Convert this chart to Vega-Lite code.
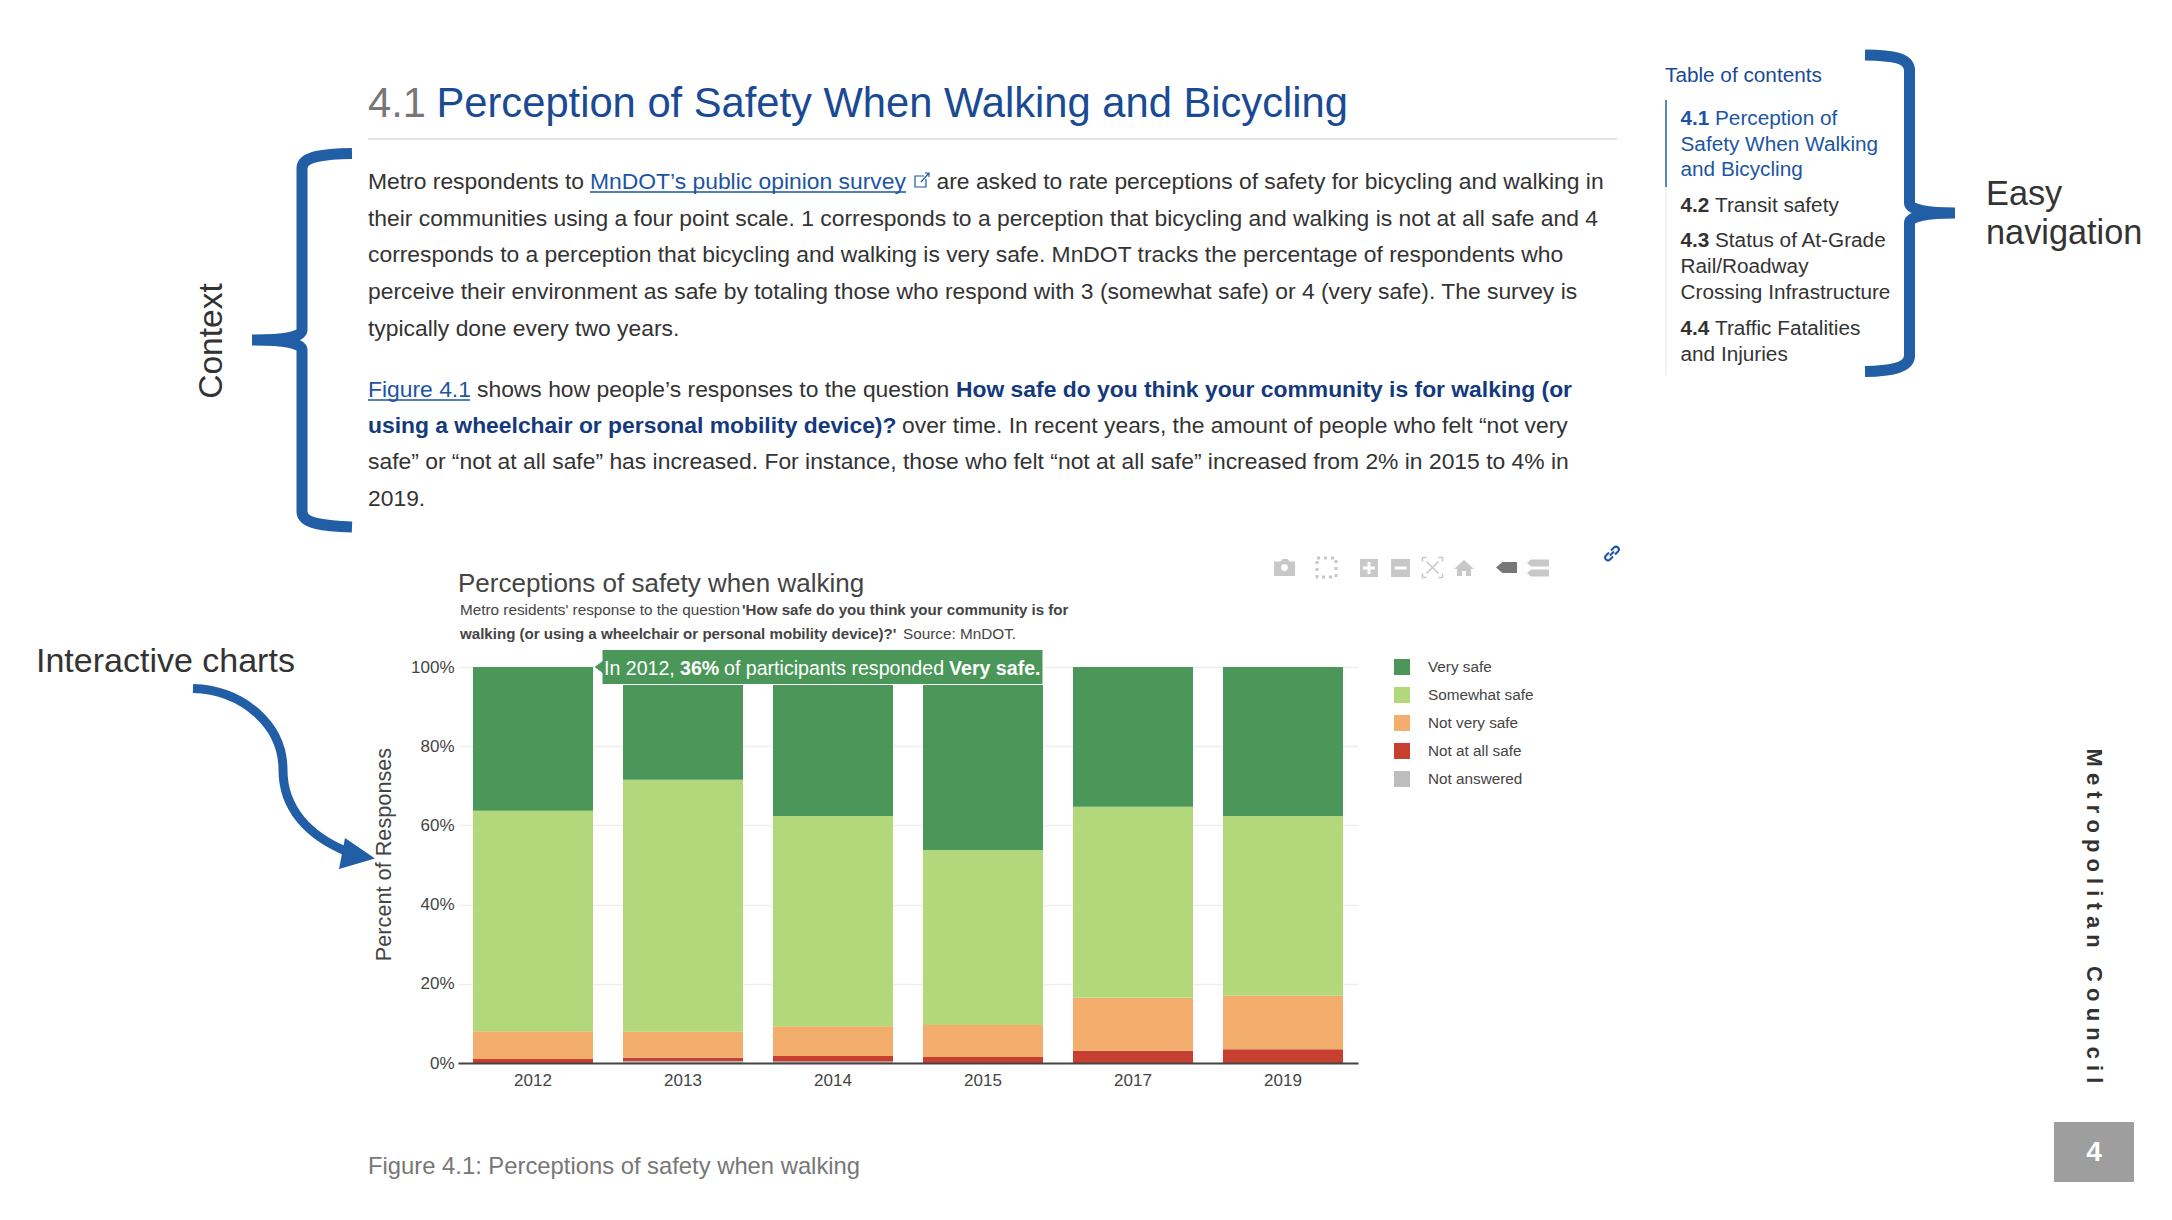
{"$schema":"https://vega.github.io/schema/vega-lite/v6.json","width":900,"height":396,"autosize":{"type":"none"},"padding":{"left":458,"top":667,"right":814,"bottom":157},"background":"white","config":{"view":{"stroke":null}},"resolve":{"scale":{"x":"independent","y":"independent"}},
"layer":[
{"data":{"values":[
{"year":"2012","response":"Not answered","percent":0},{"year":"2012","response":"Not at all safe","percent":1.0},{"year":"2012","response":"Not very safe","percent":7.0},{"year":"2012","response":"Somewhat safe","percent":55.7},{"year":"2012","response":"Very safe","percent":36.3},
{"year":"2013","response":"Not answered","percent":0.5},{"year":"2013","response":"Not at all safe","percent":0.8},{"year":"2013","response":"Not very safe","percent":6.6},{"year":"2013","response":"Somewhat safe","percent":63.6},{"year":"2013","response":"Very safe","percent":28.5},
{"year":"2014","response":"Not answered","percent":0.4},{"year":"2014","response":"Not at all safe","percent":1.35},{"year":"2014","response":"Not very safe","percent":7.55},{"year":"2014","response":"Somewhat safe","percent":53.1},{"year":"2014","response":"Very safe","percent":37.6},
{"year":"2015","response":"Not answered","percent":0},{"year":"2015","response":"Not at all safe","percent":1.5},{"year":"2015","response":"Not very safe","percent":8.1},{"year":"2015","response":"Somewhat safe","percent":44.2},{"year":"2015","response":"Very safe","percent":46.2},
{"year":"2017","response":"Not answered","percent":0},{"year":"2017","response":"Not at all safe","percent":3.1},{"year":"2017","response":"Not very safe","percent":13.4},{"year":"2017","response":"Somewhat safe","percent":48.2},{"year":"2017","response":"Very safe","percent":35.3},
{"year":"2019","response":"Not answered","percent":0},{"year":"2019","response":"Not at all safe","percent":3.5},{"year":"2019","response":"Not very safe","percent":13.5},{"year":"2019","response":"Somewhat safe","percent":45.4},{"year":"2019","response":"Very safe","percent":37.6}
]},
"transform":[{"calculate":"indexof(['Not answered','Not at all safe','Not very safe','Somewhat safe','Very safe'],datum.response)","as":"stackOrder"}],
"mark":{"type":"bar"},
"encoding":{
"x":{"field":"year","type":"nominal","scale":{"paddingInner":0.2,"paddingOuter":0.1},"axis":{"title":null,"labelAngle":0,"tickSize":0,"labelPadding":9,"labelFont":"Liberation Sans","labelFontSize":17,"labelColor":"#444","domainColor":"#444","domainWidth":2,"zindex":1,"grid":false}},
"y":{"field":"percent","type":"quantitative","stack":"zero","scale":{"domain":[0,100]},"axis":{"title":"Percent of Responses","titleFont":"Liberation Sans","titleFontSize":21.7,"titleFontWeight":"normal","titleColor":"#444","titleX":-63,"titleY":187,"values":[0,20,40,60,80,100],"labelExpr":"datum.value + '%'","tickSize":0,"labelPadding":4,"domain":false,"labelFont":"Liberation Sans","labelFontSize":17,"labelColor":"#444","gridColor":"#eeeeee","gridWidth":1.5}},
"order":{"field":"stackOrder","type":"quantitative"},
"color":{"field":"response","type":"nominal","scale":{"domain":["Very safe","Somewhat safe","Not very safe","Not at all safe","Not answered"],"range":["#4a9759","#b2d87b","#f3ae6e","#c63f2f","#bdbdbd"]},"legend":{"title":null,"orient":"none","legendX":936,"legendY":-8,"symbolType":"square","symbolSize":256,"symbolStrokeWidth":0,"symbolOpacity":1,"labelOffset":18,"rowPadding":11,"labelFont":"Liberation Sans","labelFontSize":15.3,"labelColor":"#444"}}
}},
{"data":{"values":[{}]},
"layer":[
{"mark":{"type":"rule","color":"#dddddd","strokeWidth":1.5},"encoding":{"x":{"datum":368,"type":"quantitative","axis":null,"scale":{"domain":[0,2172],"range":[-458,1714],"nice":false,"zero":false}},"x2":{"datum":1617},"y":{"datum":139,"type":"quantitative","axis":null,"scale":{"domain":[0,1220],"range":[-667,553],"nice":false,"zero":false}}}},
{"mark":{"type":"rule","color":"#eeeeee","strokeWidth":1.5},"encoding":{"x":{"datum":1666,"type":"quantitative","axis":null},"y":{"datum":187,"type":"quantitative","axis":null},"y2":{"datum":375.5}}},
{"mark":{"type":"rule","color":"#2a5ca8","strokeWidth":1.5},"encoding":{"x":{"datum":1666,"type":"quantitative","axis":null},"y":{"datum":100,"type":"quantitative","axis":null},"y2":{"datum":187}}},
{"mark":{"type":"rule","color":"#1d55a5","strokeWidth":1.5},"encoding":{"x":{"datum":590,"type":"quantitative","axis":null},"x2":{"datum":906},"y":{"datum":192,"type":"quantitative","axis":null}}},
{"mark":{"type":"rule","color":"#1d55a5","strokeWidth":1.5},"encoding":{"x":{"datum":368,"type":"quantitative","axis":null},"x2":{"datum":470},"y":{"datum":400,"type":"quantitative","axis":null}}},
{"mark":{"type":"rect","color":"#9e9e9e"},"encoding":{"x":{"datum":2054,"type":"quantitative","axis":null},"x2":{"datum":2134},"y":{"datum":1122,"type":"quantitative","axis":null},"y2":{"datum":1182}}},

{"mark":{"type":"point","filled":false,"opacity":1,"size":4,"stroke":"#225ea5","strokeWidth":11,"shape":"M50 -186.5C22 -186 0.5 -184 0 -172L0 -10C0 -3 -18 0 -50 0C-18 0 0 3 0 10L0 172C0.5 184 22 186 50 187"},"encoding":{"x":{"datum":302,"type":"quantitative","axis":null},"y":{"datum":340,"type":"quantitative","axis":null}}},
{"mark":{"type":"point","filled":false,"opacity":1,"size":4,"stroke":"#225ea5","strokeWidth":11,"shape":"M-44.5 -158C-16.5 -157.5 -0.5 -155.5 0 -143L0 -10C0 -3 18.5 0 45.5 0C18.5 0 0 3 0 10L0 143C-0.5 154 -16.5 158 -44.5 158.5"},"encoding":{"x":{"datum":1909.5,"type":"quantitative","axis":null},"y":{"datum":213,"type":"quantitative","axis":null}}},
{"mark":{"type":"point","filled":false,"opacity":1,"size":4,"stroke":"#225ea5","strokeWidth":9,"shape":"M-90 -91.5C-40 -90 0 -55 0 -10C0 28 25 56 65 72"},"encoding":{"x":{"datum":283,"type":"quantitative","axis":null},"y":{"datum":780,"type":"quantitative","axis":null}}},
{"mark":{"type":"point","filled":true,"opacity":1,"size":4,"fill":"#225ea5","strokeWidth":0,"shape":"M62 58L92 78.5L56 89Z"},"encoding":{"x":{"datum":283,"type":"quantitative","axis":null},"y":{"datum":780,"type":"quantitative","axis":null}}},

{"mark":{"type":"point","filled":true,"opacity":1,"size":4,"fill":"#c8c8c8","strokeWidth":0,"shape":"M-10.5 -6H-4L-2 -8.5H3L5 -6H10.5V8.5H-10.5ZM0 -3.5A3.5 3.5 0 0 0 0 3.5A3.5 3.5 0 0 0 0 -3.5Z"},"encoding":{"x":{"datum":1284.5,"type":"quantitative","axis":null},"y":{"datum":567.5,"type":"quantitative","axis":null}}},
{"mark":{"type":"point","filled":false,"opacity":1,"size":4,"stroke":"#c8c8c8","strokeWidth":3,"strokeDash":[3,4],"shape":"M-9.5 -9.5H9.5V9.5H-9.5Z"},"encoding":{"x":{"datum":1326.5,"type":"quantitative","axis":null},"y":{"datum":567.5,"type":"quantitative","axis":null}}},
{"mark":{"type":"point","filled":true,"opacity":1,"size":4,"fill":"#c8c8c8","strokeWidth":0,"shape":"M-9 -9H9V9H-9ZM-1.5 -6V-1.5H-6V1.5H-1.5V6H1.5V1.5H6V-1.5H1.5V-6Z"},"encoding":{"x":{"datum":1369,"type":"quantitative","axis":null},"y":{"datum":568,"type":"quantitative","axis":null}}},
{"mark":{"type":"point","filled":true,"opacity":1,"size":4,"fill":"#c8c8c8","strokeWidth":0,"shape":"M-9.5 -9H9.5V9H-9.5ZM-6 -1.5V1.5H6V-1.5Z"},"encoding":{"x":{"datum":1400.5,"type":"quantitative","axis":null},"y":{"datum":568,"type":"quantitative","axis":null}}},
{"mark":{"type":"point","filled":false,"opacity":1,"size":4,"stroke":"#c8c8c8","strokeWidth":1.5,"shape":"M-10 -6V-10H-6M6 -10H10V-6M10 6V10H6M-6 10H-10V6M-6 -6L6 6M6 -6L-6 6"},"encoding":{"x":{"datum":1432.5,"type":"quantitative","axis":null},"y":{"datum":567.5,"type":"quantitative","axis":null}}},
{"mark":{"type":"point","filled":true,"opacity":1,"size":4,"fill":"#c8c8c8","strokeWidth":0,"shape":"M0 -8L10 1H7V8H2V3H-2V8H-7V1H-10Z"},"encoding":{"x":{"datum":1464,"type":"quantitative","axis":null},"y":{"datum":568,"type":"quantitative","axis":null}}},
{"mark":{"type":"point","filled":true,"opacity":1,"size":4,"fill":"#777777","strokeWidth":0,"shape":"M-10.5 0L-4 -5.5H10.5V5.5H-4Z"},"encoding":{"x":{"datum":1506.5,"type":"quantitative","axis":null},"y":{"datum":567.5,"type":"quantitative","axis":null}}},
{"mark":{"type":"point","filled":true,"opacity":1,"size":4,"fill":"#c8c8c8","strokeWidth":0,"shape":"M-7 -8.5H11V-1.5H-7L-11 -5ZM-7 1.5H11V8.5H-7L-11 5Z"},"encoding":{"x":{"datum":1538,"type":"quantitative","axis":null},"y":{"datum":568,"type":"quantitative","axis":null}}},
{"mark":{"type":"point","filled":false,"opacity":1,"size":4,"stroke":"#1d55a5","strokeWidth":2,"shape":"M-1 -3L2 -6A2.8 2.8 0 0 1 6 -2L3 1M1 3L-2 6A2.8 2.8 0 0 1 -6 2L-3 -1M-2 2L2 -2"},"encoding":{"x":{"datum":1612,"type":"quantitative","axis":null},"y":{"datum":553.5,"type":"quantitative","axis":null}}},
{"mark":{"type":"point","filled":false,"opacity":1,"size":4,"stroke":"#1d55a5","strokeWidth":1.2,"shape":"M2 -4H-7V7H4V-1M-1 2L7 -7M3 -7H7V-3"},"encoding":{"x":{"datum":922,"type":"quantitative","axis":null},"y":{"datum":180,"type":"quantitative","axis":null}}},
{"mark":{"type":"point","filled":true,"opacity":1,"size":4,"fill":"#4a9759","stroke":"#ffffff","strokeWidth":1,"shape":"M0 -17.5H441V17.5H0V6L-8 0L0 -6Z"},"encoding":{"x":{"datum":602,"type":"quantitative","axis":null},"y":{"datum":667,"type":"quantitative","axis":null}}},

{"mark":{"type":"text","align":"left","baseline":"alphabetic","font":"Liberation Sans","fontSize":41.7,"color":"#777777"},"encoding":{"x":{"datum":368,"type":"quantitative","axis":null},"y":{"datum":117,"type":"quantitative","axis":null},"text":{"value":"4.1"}}},
{"mark":{"type":"text","align":"left","baseline":"alphabetic","font":"Liberation Sans","fontSize":41.7,"color":"#1a4a94"},"encoding":{"x":{"datum":436.5,"type":"quantitative","axis":null},"y":{"datum":117,"type":"quantitative","axis":null},"text":{"value":"Perception of Safety When Walking and Bicycling"}}},

{"mark":{"type":"text","align":"left","baseline":"alphabetic","font":"Liberation Sans","fontSize":22.87,"color":"#333333"},"encoding":{"x":{"datum":368,"type":"quantitative","axis":null},"y":{"datum":189,"type":"quantitative","axis":null},"text":{"value":"Metro respondents to"}}},
{"mark":{"type":"text","align":"left","baseline":"alphabetic","font":"Liberation Sans","fontSize":22.87,"color":"#1d55a5"},"encoding":{"x":{"datum":590,"type":"quantitative","axis":null},"y":{"datum":189,"type":"quantitative","axis":null},"text":{"value":"MnDOT’s public opinion survey"}}},
{"mark":{"type":"text","align":"left","baseline":"alphabetic","font":"Liberation Sans","fontSize":22.87,"color":"#333333"},"encoding":{"x":{"datum":936.5,"type":"quantitative","axis":null},"y":{"datum":189,"type":"quantitative","axis":null},"text":{"value":"are asked to rate perceptions of safety for bicycling and walking in"}}},
{"mark":{"type":"text","align":"left","baseline":"alphabetic","font":"Liberation Sans","fontSize":22.87,"color":"#333333"},"encoding":{"x":{"datum":368,"type":"quantitative","axis":null},"y":{"datum":226,"type":"quantitative","axis":null},"text":{"value":"their communities using a four point scale. 1 corresponds to a perception that bicycling and walking is not at all safe and 4"}}},
{"mark":{"type":"text","align":"left","baseline":"alphabetic","font":"Liberation Sans","fontSize":22.87,"color":"#333333"},"encoding":{"x":{"datum":368,"type":"quantitative","axis":null},"y":{"datum":262,"type":"quantitative","axis":null},"text":{"value":"corresponds to a perception that bicycling and walking is very safe. MnDOT tracks the percentage of respondents who"}}},
{"mark":{"type":"text","align":"left","baseline":"alphabetic","font":"Liberation Sans","fontSize":22.87,"color":"#333333"},"encoding":{"x":{"datum":368,"type":"quantitative","axis":null},"y":{"datum":299,"type":"quantitative","axis":null},"text":{"value":"perceive their environment as safe by totaling those who respond with 3 (somewhat safe) or 4 (very safe). The survey is"}}},
{"mark":{"type":"text","align":"left","baseline":"alphabetic","font":"Liberation Sans","fontSize":22.87,"color":"#333333"},"encoding":{"x":{"datum":368,"type":"quantitative","axis":null},"y":{"datum":336,"type":"quantitative","axis":null},"text":{"value":"typically done every two years."}}},
{"mark":{"type":"text","align":"left","baseline":"alphabetic","font":"Liberation Sans","fontSize":22.87,"color":"#1d55a5"},"encoding":{"x":{"datum":368,"type":"quantitative","axis":null},"y":{"datum":397,"type":"quantitative","axis":null},"text":{"value":"Figure 4.1"}}},
{"mark":{"type":"text","align":"left","baseline":"alphabetic","font":"Liberation Sans","fontSize":22.87,"color":"#333333"},"encoding":{"x":{"datum":477,"type":"quantitative","axis":null},"y":{"datum":397,"type":"quantitative","axis":null},"text":{"value":"shows how people’s responses to the question"}}},
{"mark":{"type":"text","align":"left","baseline":"alphabetic","font":"Liberation Sans","fontSize":22.87,"fontWeight":"bold","color":"#14397d"},"encoding":{"x":{"datum":956,"type":"quantitative","axis":null},"y":{"datum":397,"type":"quantitative","axis":null},"text":{"value":"How safe do you think your community is for walking (or"}}},
{"mark":{"type":"text","align":"left","baseline":"alphabetic","font":"Liberation Sans","fontSize":22.87,"fontWeight":"bold","color":"#14397d"},"encoding":{"x":{"datum":368,"type":"quantitative","axis":null},"y":{"datum":433,"type":"quantitative","axis":null},"text":{"value":"using a wheelchair or personal mobility device)?"}}},
{"mark":{"type":"text","align":"left","baseline":"alphabetic","font":"Liberation Sans","fontSize":22.87,"color":"#333333"},"encoding":{"x":{"datum":902,"type":"quantitative","axis":null},"y":{"datum":433,"type":"quantitative","axis":null},"text":{"value":"over time. In recent years, the amount of people who felt “not very"}}},
{"mark":{"type":"text","align":"left","baseline":"alphabetic","font":"Liberation Sans","fontSize":22.87,"color":"#333333"},"encoding":{"x":{"datum":368,"type":"quantitative","axis":null},"y":{"datum":469,"type":"quantitative","axis":null},"text":{"value":"safe” or “not at all safe” has increased. For instance, those who felt “not at all safe” increased from 2% in 2015 to 4% in"}}},
{"mark":{"type":"text","align":"left","baseline":"alphabetic","font":"Liberation Sans","fontSize":22.87,"color":"#333333"},"encoding":{"x":{"datum":368,"type":"quantitative","axis":null},"y":{"datum":506,"type":"quantitative","axis":null},"text":{"value":"2019."}}},
{"mark":{"type":"text","align":"left","baseline":"alphabetic","font":"Liberation Sans","fontSize":23.8,"color":"#777777"},"encoding":{"x":{"datum":368,"type":"quantitative","axis":null},"y":{"datum":1174,"type":"quantitative","axis":null},"text":{"value":"Figure 4.1: Perceptions of safety when walking"}}},

{"mark":{"type":"text","align":"left","baseline":"alphabetic","font":"Liberation Sans","fontSize":26,"color":"#444444"},"encoding":{"x":{"datum":458,"type":"quantitative","axis":null},"y":{"datum":592,"type":"quantitative","axis":null},"text":{"value":"Perceptions of safety when walking"}}},
{"mark":{"type":"text","align":"left","baseline":"alphabetic","font":"Liberation Sans","fontSize":15.3,"color":"#444444"},"encoding":{"x":{"datum":460,"type":"quantitative","axis":null},"y":{"datum":615,"type":"quantitative","axis":null},"text":{"value":"Metro residents' response to the question"}}},
{"mark":{"type":"text","align":"left","baseline":"alphabetic","font":"Liberation Sans","fontSize":15.1,"fontWeight":"bold","color":"#444444"},"encoding":{"x":{"datum":742,"type":"quantitative","axis":null},"y":{"datum":615,"type":"quantitative","axis":null},"text":{"value":"'How safe do you think your community is for"}}},
{"mark":{"type":"text","align":"left","baseline":"alphabetic","font":"Liberation Sans","fontSize":15.1,"fontWeight":"bold","color":"#444444"},"encoding":{"x":{"datum":460,"type":"quantitative","axis":null},"y":{"datum":639,"type":"quantitative","axis":null},"text":{"value":"walking (or using a wheelchair or personal mobility device)?'"}}},
{"mark":{"type":"text","align":"left","baseline":"alphabetic","font":"Liberation Sans","fontSize":15.3,"color":"#444444"},"encoding":{"x":{"datum":903,"type":"quantitative","axis":null},"y":{"datum":639,"type":"quantitative","axis":null},"text":{"value":"Source: MnDOT."}}},

{"mark":{"type":"text","align":"left","baseline":"alphabetic","font":"Liberation Sans","fontSize":19.6,"color":"#ffffff"},"encoding":{"x":{"datum":604,"type":"quantitative","axis":null},"y":{"datum":675,"type":"quantitative","axis":null},"text":{"value":"In 2012,"}}},
{"mark":{"type":"text","align":"left","baseline":"alphabetic","font":"Liberation Sans","fontSize":19.6,"fontWeight":"bold","color":"#ffffff"},"encoding":{"x":{"datum":680,"type":"quantitative","axis":null},"y":{"datum":675,"type":"quantitative","axis":null},"text":{"value":"36%"}}},
{"mark":{"type":"text","align":"left","baseline":"alphabetic","font":"Liberation Sans","fontSize":19.6,"color":"#ffffff"},"encoding":{"x":{"datum":724,"type":"quantitative","axis":null},"y":{"datum":675,"type":"quantitative","axis":null},"text":{"value":"of participants responded"}}},
{"mark":{"type":"text","align":"left","baseline":"alphabetic","font":"Liberation Sans","fontSize":19.6,"fontWeight":"bold","color":"#ffffff"},"encoding":{"x":{"datum":949,"type":"quantitative","axis":null},"y":{"datum":675,"type":"quantitative","axis":null},"text":{"value":"Very safe."}}},

{"mark":{"type":"text","align":"left","baseline":"alphabetic","font":"Liberation Sans","fontSize":20.75,"color":"#1a4a94"},"encoding":{"x":{"datum":1665,"type":"quantitative","axis":null},"y":{"datum":81.6,"type":"quantitative","axis":null},"text":{"value":"Table of contents"}}},
{"mark":{"type":"text","align":"left","baseline":"alphabetic","font":"Liberation Sans","fontSize":20.75,"fontWeight":"bold","color":"#1d55a5"},"encoding":{"x":{"datum":1680.5,"type":"quantitative","axis":null},"y":{"datum":124.6,"type":"quantitative","axis":null},"text":{"value":"4.1"}}},
{"mark":{"type":"text","align":"left","baseline":"alphabetic","font":"Liberation Sans","fontSize":20.75,"color":"#1d55a5"},"encoding":{"x":{"datum":1715,"type":"quantitative","axis":null},"y":{"datum":124.6,"type":"quantitative","axis":null},"text":{"value":"Perception of"}}},
{"mark":{"type":"text","align":"left","baseline":"alphabetic","font":"Liberation Sans","fontSize":20.75,"color":"#1d55a5"},"encoding":{"x":{"datum":1680.5,"type":"quantitative","axis":null},"y":{"datum":150.6,"type":"quantitative","axis":null},"text":{"value":"Safety When Walking"}}},
{"mark":{"type":"text","align":"left","baseline":"alphabetic","font":"Liberation Sans","fontSize":20.75,"color":"#1d55a5"},"encoding":{"x":{"datum":1680.5,"type":"quantitative","axis":null},"y":{"datum":176,"type":"quantitative","axis":null},"text":{"value":"and Bicycling"}}},
{"mark":{"type":"text","align":"left","baseline":"alphabetic","font":"Liberation Sans","fontSize":20.75,"fontWeight":"bold","color":"#333333"},"encoding":{"x":{"datum":1680.5,"type":"quantitative","axis":null},"y":{"datum":212,"type":"quantitative","axis":null},"text":{"value":"4.2"}}},
{"mark":{"type":"text","align":"left","baseline":"alphabetic","font":"Liberation Sans","fontSize":20.75,"color":"#333333"},"encoding":{"x":{"datum":1715,"type":"quantitative","axis":null},"y":{"datum":212,"type":"quantitative","axis":null},"text":{"value":"Transit safety"}}},
{"mark":{"type":"text","align":"left","baseline":"alphabetic","font":"Liberation Sans","fontSize":20.75,"fontWeight":"bold","color":"#333333"},"encoding":{"x":{"datum":1680.5,"type":"quantitative","axis":null},"y":{"datum":246.5,"type":"quantitative","axis":null},"text":{"value":"4.3"}}},
{"mark":{"type":"text","align":"left","baseline":"alphabetic","font":"Liberation Sans","fontSize":20.75,"color":"#333333"},"encoding":{"x":{"datum":1715,"type":"quantitative","axis":null},"y":{"datum":246.5,"type":"quantitative","axis":null},"text":{"value":"Status of At-Grade"}}},
{"mark":{"type":"text","align":"left","baseline":"alphabetic","font":"Liberation Sans","fontSize":20.75,"color":"#333333"},"encoding":{"x":{"datum":1680.5,"type":"quantitative","axis":null},"y":{"datum":272.5,"type":"quantitative","axis":null},"text":{"value":"Rail/Roadway"}}},
{"mark":{"type":"text","align":"left","baseline":"alphabetic","font":"Liberation Sans","fontSize":20.75,"color":"#333333"},"encoding":{"x":{"datum":1680.5,"type":"quantitative","axis":null},"y":{"datum":299,"type":"quantitative","axis":null},"text":{"value":"Crossing Infrastructure"}}},
{"mark":{"type":"text","align":"left","baseline":"alphabetic","font":"Liberation Sans","fontSize":20.75,"fontWeight":"bold","color":"#333333"},"encoding":{"x":{"datum":1680.5,"type":"quantitative","axis":null},"y":{"datum":335,"type":"quantitative","axis":null},"text":{"value":"4.4"}}},
{"mark":{"type":"text","align":"left","baseline":"alphabetic","font":"Liberation Sans","fontSize":20.75,"color":"#333333"},"encoding":{"x":{"datum":1715,"type":"quantitative","axis":null},"y":{"datum":335,"type":"quantitative","axis":null},"text":{"value":"Traffic Fatalities"}}},
{"mark":{"type":"text","align":"left","baseline":"alphabetic","font":"Liberation Sans","fontSize":20.75,"color":"#333333"},"encoding":{"x":{"datum":1680.5,"type":"quantitative","axis":null},"y":{"datum":361,"type":"quantitative","axis":null},"text":{"value":"and Injuries"}}},

{"mark":{"type":"text","align":"left","baseline":"alphabetic","font":"Liberation Sans","fontSize":34.3,"color":"#333333"},"encoding":{"x":{"datum":1986,"type":"quantitative","axis":null},"y":{"datum":205,"type":"quantitative","axis":null},"text":{"value":"Easy"}}},
{"mark":{"type":"text","align":"left","baseline":"alphabetic","font":"Liberation Sans","fontSize":34.3,"color":"#333333"},"encoding":{"x":{"datum":1986,"type":"quantitative","axis":null},"y":{"datum":244,"type":"quantitative","axis":null},"text":{"value":"navigation"}}},
{"mark":{"type":"text","align":"left","baseline":"alphabetic","font":"Liberation Sans","fontSize":34,"color":"#333333"},"encoding":{"x":{"datum":36,"type":"quantitative","axis":null},"y":{"datum":672,"type":"quantitative","axis":null},"text":{"value":"Interactive charts"}}},
{"mark":{"type":"text","align":"center","baseline":"alphabetic","font":"Liberation Sans","fontSize":33.5,"angle":270,"color":"#333333"},"encoding":{"x":{"datum":222,"type":"quantitative","axis":null},"y":{"datum":341,"type":"quantitative","axis":null},"text":{"value":"Context"}}},
{"mark":{"type":"text","align":"center","baseline":"alphabetic","font":"Liberation Sans","fontSize":22,"fontWeight":"bold","angle":90,"color":"#333333"},"encoding":{"x":{"datum":2087,"type":"quantitative","axis":null},"y":{"datum":916,"type":"quantitative","axis":null},"text":{"value":"M e t r o p o l i t a n \u00a0\u00a0C o u n c i l"}}},
{"mark":{"type":"text","align":"center","baseline":"middle","font":"Liberation Sans","fontSize":28,"fontWeight":"bold","color":"#ffffff"},"encoding":{"x":{"datum":2094,"type":"quantitative","axis":null},"y":{"datum":1153,"type":"quantitative","axis":null},"text":{"value":"4"}}}
]}
]}
